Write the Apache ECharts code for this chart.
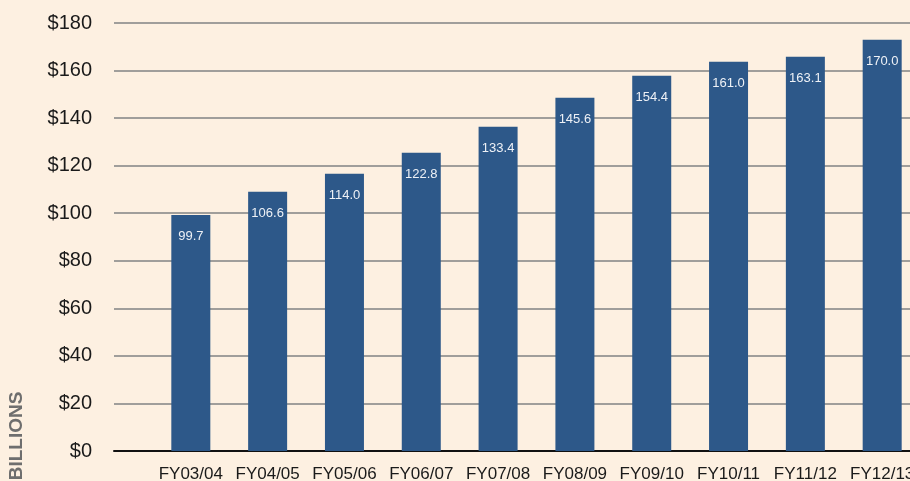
<!DOCTYPE html>
<html>
<head>
    <meta charset="UTF-8">
    <title>Billions by fiscal year</title>
    <script src="https://cdn.jsdelivr.net/npm/echarts@6/dist/echarts.min.js"></script>
    <style>
        html, body {
            margin: 0;
            padding: 0;
            background: #fdf0e1;
        }
        #chart {
            width: 910px;
            height: 481px;
        }
    </style>
</head>
<body>
<div id="chart"></div>
<script>
    // fiscal years on the x axis
    var years = ['FY03/04', 'FY04/05', 'FY05/06', 'FY06/07', 'FY07/08',
                 'FY08/09', 'FY09/10', 'FY10/11', 'FY11/12', 'FY12/13'];
    // bar heights as drawn in the picture
    var barValues = [99.3, 109.0, 116.6, 125.4, 136.4, 148.6, 157.8, 163.7, 165.8, 173.0];
    // numbers printed inside the bars
    var barLabels = ['99.7', '106.6', '114.0', '122.8', '133.4', '145.6', '154.4', '161.0', '163.1', '170.0'];
    var yTicks = [0, 20, 40, 60, 80, 100, 120, 140, 160, 180];

    // one empty slot at each end so the axis runs past the bars like the original
    var cats = [''].concat(years, ['']);
    var data = ['-'].concat(barValues, ['-']);

    var echart = echarts.init(document.getElementById('chart'));
    var option = {
        backgroundColor: '#fdf0e1',
        animation: false,
        // plot runs off the right edge, the last label is cut like the original
        grid: {left: 114, right: -49, top: 23, bottom: 30, outerBoundsMode: 'none', containLabel: false},
        xAxis: {
            type: 'category',
            data: cats,
            boundaryGap: false,
            axisLine: {lineStyle: {color: '#111', width: 2}},
            axisTick: {show: false},
            axisLabel: {
                interval: 0,
                margin: 15,
                color: '#1a1a1a',
                fontSize: 17,
                fontFamily: 'Liberation Sans'
            }
        },
        yAxis: {
            type: 'value',
            min: yTicks[0],
            max: yTicks[yTicks.length - 1],
            interval: yTicks[1] - yTicks[0],
            axisLine: {show: false},
            axisTick: {show: false},
            splitLine: {lineStyle: {color: '#a09e9b', width: 2}},
            axisLabel: {
                margin: 22,
                color: '#1a1a1a',
                fontSize: 20,
                fontFamily: 'Liberation Sans',
                formatter: function (v) { return '$' + v; }
            }
        },
        series: [{
            type: 'bar',
            data: data,
            barWidth: 39,
            itemStyle: {color: '#2d5889'},
            label: {
                show: true,
                position: 'insideTop',
                distance: 15,
                color: '#eef1f6',
                fontSize: 13,
                fontFamily: 'Liberation Sans',
                formatter: function (p) { return barLabels[p.dataIndex - 1]; }
            }
        }],
        graphic: [{
            type: 'text',
            x: 17,
            y: 436,
            rotation: Math.PI / 2,
            style: {
                text: 'BILLIONS',
                fill: '#6e6e6e',
                font: 'bold 19px "Liberation Sans"',
                textAlign: 'center',
                textVerticalAlign: 'middle'
            }
        }]
    };
    echart.setOption(option);
</script>
</body>
</html>
